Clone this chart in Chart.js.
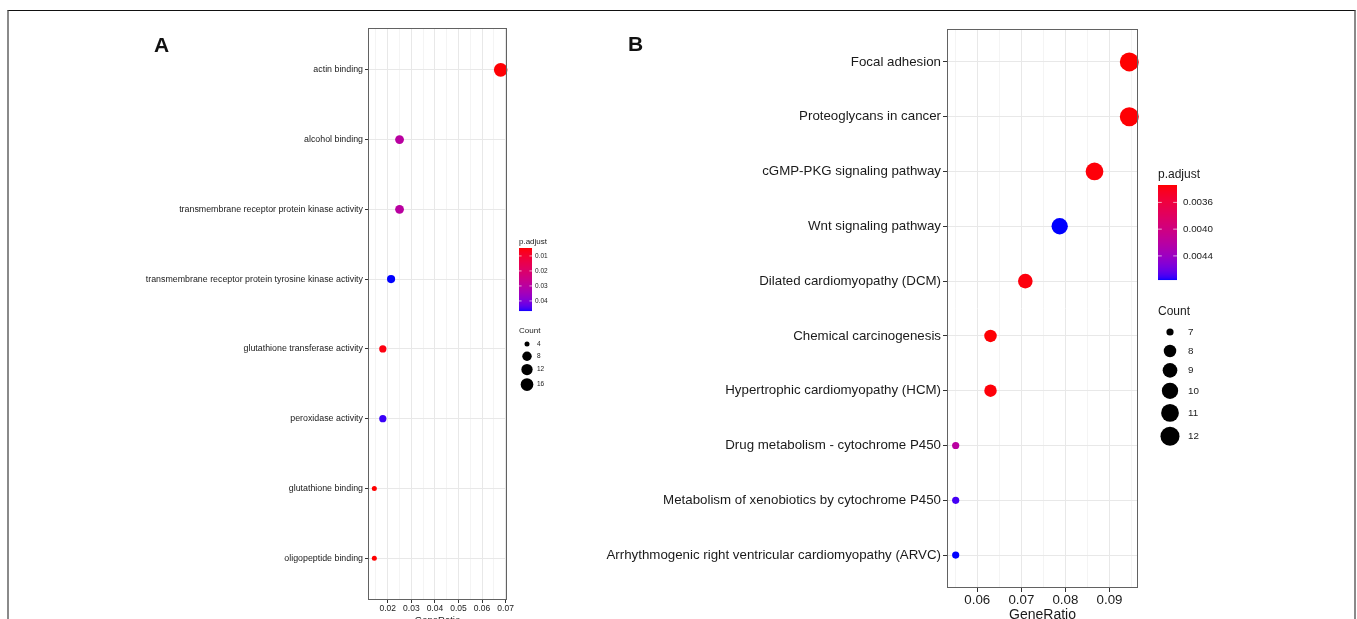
<!DOCTYPE html>
<html>
<head>
<meta charset="utf-8">
<title>Enrichment dot plots</title>
<script src="https://cdn.jsdelivr.net/npm/chart.js@4.4.1/dist/chart.umd.min.js"></script>
<style>
  html, body { margin: 0; padding: 0; background: #fff; overflow: hidden; }
  #page { position: relative; width: 1357px; height: 619px; overflow: hidden; }
  #frame { position: absolute; left: 7px; top: 10px; width: 1345px; height: 700px;
           border-top: 1.5px solid #111; border-left: 2px solid #8a8a8a; border-right: 2px solid #8a8a8a;
           pointer-events: none; }
  canvas { position: absolute; top: 0; }
  #chartA { left: 0; }
  #chartB { left: 580px; }
  .tag { position: absolute; font: bold 21px 'Liberation Sans', Arial, sans-serif; line-height: 21px; color: #111; }
</style>
</head>
<body>
<div id="page">
  <canvas id="chartA" width="570" height="650"></canvas>
  <canvas id="chartB" width="777" height="650"></canvas>
  <div class="tag" style="left:154px; top:34px;">A</div>
  <div class="tag" style="left:628px; top:33px;">B</div>
  <div id="frame"></div>
</div>
<script>
// GO terms (panel A)
const termsA = [
    'actin binding',
    'alcohol binding',
    'transmembrane receptor protein kinase activity',
    'transmembrane receptor protein tyrosine kinase activity',
    'glutathione transferase activity',
    'peroxidase activity',
    'glutathione binding',
    'oligopeptide binding'
];
const ratioA = [0.0679, 0.0250, 0.0250, 0.0214, 0.0179, 0.0179, 0.0143, 0.0143];
const countA = [19, 7, 7, 6, 5, 5, 4, 4];
const padjA = [0.0050, 0.0300, 0.0300, 0.0467, 0.0058, 0.0455, 0.0047, 0.0047];
const ratioTicksA = [0.02, 0.03, 0.04, 0.05, 0.06, 0.07];
const padjTicksA = [0.01, 0.02, 0.03, 0.04];
const countTicksA = [4, 8, 12, 16];

// KEGG pathways (panel B)
const termsB = [
    'Focal adhesion',
    'Proteoglycans in cancer',
    'cGMP-PKG signaling pathway',
    'Wnt signaling pathway',
    'Dilated cardiomyopathy (DCM)',
    'Chemical carcinogenesis',
    'Hypertrophic cardiomyopathy (HCM)',
    'Drug metabolism - cytochrome P450',
    'Metabolism of xenobiotics by cytochrome P450',
    'Arrhythmogenic right ventricular cardiomyopathy (ARVC)'
];
const ratioB = [0.0945, 0.0945, 0.0866, 0.0787, 0.0709, 0.0630, 0.0630, 0.0551, 0.0551, 0.0551];
const countB = [12, 12, 11, 10, 9, 8, 8, 7, 7, 7];
const padjB = [0.00334, 0.00335, 0.00336, 0.00476, 0.00337, 0.00335, 0.00336, 0.00420, 0.00470, 0.00476];
const ratioTicksB = [0.06, 0.07, 0.08, 0.09];
const padjTicksB = [0.0036, 0.0040, 0.0044];
const countTicksB = [7, 8, 9, 10, 11, 12];

const FONT = "'Liberation Sans', Arial, Helvetica, sans-serif";
const INK = '#1a1a1a';

// red -> blue gradient interpolated in CIE Lab, like ggplot's continuous colour scale
function toLinear(c) { c /= 255; return c <= 0.04045 ? c / 12.92 : Math.pow((c + 0.055) / 1.055, 2.4); }
function toByte(c) {
    c = c <= 0.0031308 ? 12.92 * c : 1.055 * Math.pow(c, 1 / 2.4) - 0.055;
    return Math.round(Math.min(1, Math.max(0, c)) * 255);
}
function rgbToLab(r, g, b) {
    r = toLinear(r); g = toLinear(g); b = toLinear(b);
    const X = (0.4124 * r + 0.3576 * g + 0.1805 * b) / 0.95047;
    const Y = 0.2126 * r + 0.7152 * g + 0.0722 * b;
    const Z = (0.0193 * r + 0.1192 * g + 0.9505 * b) / 1.08883;
    const f = t => t > 0.008856 ? Math.cbrt(t) : 7.787 * t + 16 / 116;
    return [116 * f(Y) - 16, 500 * (f(X) - f(Y)), 200 * (f(Y) - f(Z))];
}
function labToRgb(L, a, b) {
    const fy = (L + 16) / 116, fx = fy + a / 500, fz = fy - b / 200;
    const inv = t => t * t * t > 0.008856 ? t * t * t : (t - 16 / 116) / 7.787;
    const X = inv(fx) * 0.95047, Y = inv(fy), Z = inv(fz) * 1.08883;
    const r = 3.2406 * X - 1.5372 * Y - 0.4986 * Z;
    const g = -0.9689 * X + 1.8758 * Y + 0.0415 * Z;
    const bl = 0.0557 * X - 0.2040 * Y + 1.0570 * Z;
    return `rgb(${toByte(r)},${toByte(g)},${toByte(bl)})`;
}
const LAB_LOW = rgbToLab(255, 0, 0);
const LAB_HIGH = rgbToLab(0, 0, 255);
function padjColor(p, lo, hi) {
    const t = Math.min(1, Math.max(0, (p - lo) / (hi - lo)));
    return labToRgb(
        LAB_LOW[0] + (LAB_HIGH[0] - LAB_LOW[0]) * t,
        LAB_LOW[1] + (LAB_HIGH[1] - LAB_LOW[1]) * t,
        LAB_LOW[2] + (LAB_HIGH[2] - LAB_LOW[2]) * t
    );
}

// point area grows with Count (sqrt mapping onto a radius range)
function sizeScale(c, cMin, cMax, rMin, rMax) {
    return rMin + (rMax - rMin) * Math.sqrt((c - cMin) / (cMax - cMin));
}

function dotPlot(id, d, s) {
    const canvas = document.getElementById(id);
    const W = canvas.width, H = canvas.height;
    const n = d.terms.length;
    const pMin = Math.min(...d.padj), pMax = Math.max(...d.padj);
    const cMin = Math.min(...d.count), cMax = Math.max(...d.count);
    const rMin = Math.min(...d.ratio), rMax = Math.max(...d.ratio);
    const expand = (rMax - rMin) * 0.05;
    const xMin = rMin - expand, xMax = rMax + expand;

    // major ticks plus the minor lines half way between them
    const step = d.xTicks[1] - d.xTicks[0];
    const xLines = [];
    for (let v = d.xTicks[0] - step / 2; v <= xMax + 1e-9; v += step / 2) {
        if (v >= xMin) xLines.push(+v.toFixed(6));
    }
    const isMajor = v => d.xTicks.some(t => Math.abs(t - v) < 1e-7);
    const radius = c => sizeScale(c, cMin, cMax, s.rMin, s.rMax);

    const xTitleLH = s.xTitleFont * 1.2;
    const xAxisH = s.xTitleY + xTitleLH / 2 - s.plotBottom;

    const legendPlugin = {
        id: 'dotLegend',
        afterDraw(chart) {
            const ctx = chart.ctx, a = chart.chartArea;
            ctx.save();
            // panel border
            ctx.strokeStyle = '#626262';
            ctx.lineWidth = 1;
            ctx.strokeRect(a.left + 0.5, a.top + 0.5, a.right - a.left - 1, a.bottom - a.top - 1);

            const lg = s.legend;
            const bx = a.right + lg.dx;
            ctx.fillStyle = INK;
            ctx.textBaseline = 'middle';
            ctx.textAlign = 'left';
            ctx.font = `${lg.titleFont}px ${FONT}`;
            ctx.fillText('p.adjust', bx, lg.titleY);

            // colour bar
            for (let i = 0; i < lg.barH; i++) {
                ctx.fillStyle = padjColor(pMin + (pMax - pMin) * (i + 0.5) / lg.barH, pMin, pMax);
                ctx.fillRect(bx, lg.barTop + i, lg.barW, 1.05);
            }
            ctx.font = `${lg.labelFont}px ${FONT}`;
            d.padjTicks.forEach(p => {
                const y = lg.barTop + (p - pMin) / (pMax - pMin) * lg.barH;
                ctx.strokeStyle = 'rgba(255,255,255,0.8)';
                ctx.lineWidth = 0.8;
                ctx.beginPath();
                ctx.moveTo(bx, y); ctx.lineTo(bx + lg.barW * 0.2, y);
                ctx.moveTo(bx + lg.barW * 0.8, y); ctx.lineTo(bx + lg.barW, y);
                ctx.stroke();
                ctx.fillStyle = INK;
                ctx.fillText(p.toFixed(lg.digits), bx + lg.barW + lg.labelGap, y);
            });

            // size keys
            ctx.font = `${lg.titleFont}px ${FONT}`;
            ctx.fillText('Count', bx, lg.countTitleY);
            ctx.font = `${lg.labelFont}px ${FONT}`;
            let y = lg.countTop;
            d.countTicks.forEach(c => {
                const r = radius(c);
                const h = Math.max(lg.keyH, 2 * r + lg.keyGap);
                const cy = y + h / 2;
                ctx.fillStyle = '#000';
                ctx.beginPath();
                ctx.arc(bx + lg.keyDx, cy, r, 0, Math.PI * 2);
                ctx.fill();
                ctx.fillStyle = INK;
                ctx.fillText(String(c), bx + lg.keyLabelDx, cy);
                y += h;
            });
            ctx.restore();
        }
    };

    return new Chart(canvas.getContext('2d'), {
        type: 'scatter',
        data: {
            datasets: [{
                data: d.ratio.map((x, i) => ({ x: x, y: i })),
                pointRadius: d.count.map(radius),
                pointBackgroundColor: d.padj.map(p => padjColor(p, pMin, pMax)),
                pointBorderWidth: 0,
                clip: false
            }]
        },
        options: {
            responsive: false,
            animation: false,
            events: [],
            layout: {
                padding: { left: 0, top: s.plotTop, right: W - s.plotRight, bottom: H - s.plotBottom - xAxisH }
            },
            plugins: { legend: { display: false }, tooltip: { enabled: false } },
            scales: {
                x: {
                    type: 'linear',
                    min: xMin,
                    max: xMax,
                    afterBuildTicks: sc => { sc.ticks = xLines.map(v => ({ value: v })); },
                    afterFit: sc => { sc.height = xAxisH; },
                    ticks: {
                        autoSkip: false,
                        maxRotation: 0,
                        color: INK,
                        padding: s.xPad,
                        font: { family: FONT, size: s.tickFont, lineHeight: 1 },
                        callback: v => isMajor(v) ? v.toFixed(2) : ''
                    },
                    grid: {
                        color: '#e8e8e8',
                        lineWidth: ctx => (ctx.tick && !isMajor(ctx.tick.value)) ? 0.5 : 1,
                        tickLength: s.tick,
                        tickColor: ctx => (ctx.tick && !isMajor(ctx.tick.value)) ? 'rgba(0,0,0,0)' : '#333'
                    },
                    border: { display: false },
                    title: {
                        display: true,
                        text: 'GeneRatio',
                        color: INK,
                        padding: 0,
                        font: { family: FONT, size: s.xTitleFont, lineHeight: 1.2 }
                    }
                },
                y: {
                    type: 'linear',
                    reverse: true,
                    min: -0.6,
                    max: n - 1 + 0.6,
                    afterBuildTicks: sc => { sc.ticks = d.terms.map((_, i) => ({ value: i })); },
                    afterFit: sc => { sc.width = s.plotLeft; },
                    ticks: {
                        autoSkip: false,
                        color: INK,
                        padding: s.yPad,
                        font: { family: FONT, size: s.yFont, lineHeight: 1 },
                        callback: v => d.terms[v]
                    },
                    grid: { color: '#e8e8e8', lineWidth: 1, tickLength: s.tick, tickColor: '#333' },
                    border: { display: false }
                }
            }
        },
        plugins: [legendPlugin]
    });
}

dotPlot('chartA', {
    terms: termsA, ratio: ratioA, count: countA, padj: padjA,
    xTicks: ratioTicksA, padjTicks: padjTicksA, countTicks: countTicksA
}, {
    plotLeft: 368, plotRight: 507, plotTop: 28, plotBottom: 600,
    yFont: 8.85, tickFont: 8.5, xTitleFont: 9.5, xTitleY: 620,
    tick: 3, yPad: 2, xPad: 1.2,
    rMin: 2.5, rMax: 6.8,
    legend: {
        dx: 12, titleFont: 8, labelFont: 6.5, titleY: 242,
        barTop: 248, barW: 13, barH: 63, labelGap: 3, digits: 2,
        countTitleY: 331, countTop: 338, keyH: 12, keyGap: 3, keyDx: 8, keyLabelDx: 18
    }
});

dotPlot('chartB', {
    terms: termsB, ratio: ratioB, count: countB, padj: padjB,
    xTicks: ratioTicksB, padjTicks: padjTicksB, countTicks: countTicksB
}, {
    plotLeft: 367, plotRight: 558, plotTop: 29, plotBottom: 588,
    yFont: 13.3, tickFont: 13.3, xTitleFont: 14, xTitleY: 615,
    tick: 4, yPad: 2, xPad: 1.8,
    rMin: 3.6, rMax: 9.5,
    legend: {
        dx: 20, titleFont: 12, labelFont: 9.8, titleY: 175,
        barTop: 185, barW: 19, barH: 95, labelGap: 6, digits: 4,
        countTitleY: 312, countTop: 322.5, keyH: 19, keyGap: 5, keyDx: 12, keyLabelDx: 30
    }
});
</script>
</body>
</html>
